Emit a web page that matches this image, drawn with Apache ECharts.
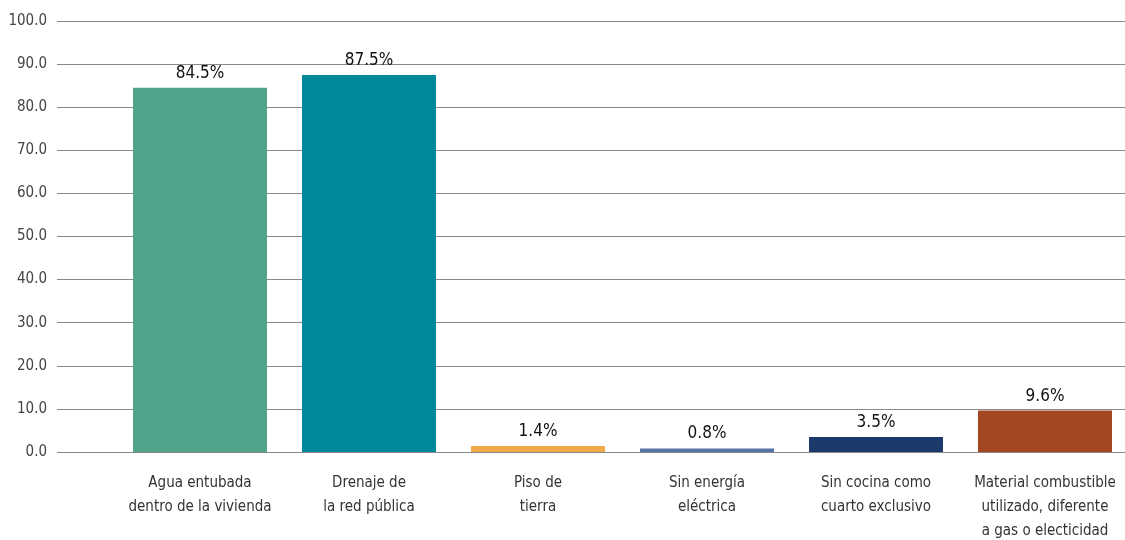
<!DOCTYPE html>
<html>
<head>
<meta charset="utf-8">
<script src="https://cdn.jsdelivr.net/npm/echarts@6/dist/echarts.min.js"></script>
<style>
  html, body { margin: 0; padding: 0; background: #fff; }
  #chart { width: 1125px; height: 540px; }
</style>
</head>
<body>
<div id="chart"></div>
<script>
// datos del gráfico
const categorias = [
  'Agua entubada\ndentro de la vivienda',
  'Drenaje de\nla red pública',
  'Piso de\ntierra',
  'Sin energía\neléctrica',
  'Sin cocina como\ncuarto exclusivo',
  'Material combustible\nutilizado, diferente\na gas o electicidad'
]
const valores = [84.5, 87.5, 1.4, 0.8, 3.5, 9.6]
const colores = ['#51a48c', '#00899b', '#f2a94a', '#5574a6', '#1b3a6b', '#a34722']

const fuente = '"Liberation Sans Narrow", "DejaVu Sans Condensed", sans-serif'

const chart = echarts.init(document.getElementById('chart'))

const option = {
  animation: false,
  textStyle: { fontFamily: fuente },
  grid: [
    // cuadrícula para las líneas del eje Y
    { left: 57, right: 0, top: 21, bottom: 88, outerBoundsMode: 'none' },
    // cuadrícula para las barras
    { left: 115.5, right: -4.5, top: 21, bottom: 88, outerBoundsMode: 'none' }
  ],
  xAxis: [
    { gridIndex: 0, type: 'value', show: false, min: 0, max: 1 },
    {
      gridIndex: 1,
      type: 'category',
      data: categorias,
      axisLine: { show: false },
      axisTick: { show: false },
      axisLabel: {
        interval: 0,
        margin: 19,
        fontSize: 15,
        lineHeight: 24,
        color: '#333',
        fontFamily: fuente
      }
    }
  ],
  yAxis: [
    {
      gridIndex: 0,
      type: 'value',
      min: 0,
      max: 100,
      interval: 10,
      axisLine: { show: false },
      axisTick: { show: false },
      axisLabel: {
        margin: 10,
        fontSize: 15,
        color: '#444',
        fontFamily: fuente,
        formatter: v => v.toFixed(1)
      },
      splitLine: { lineStyle: { color: '#8a8a8a', width: 1 } }
    },
    { gridIndex: 1, type: 'value', min: 0, max: 100, show: false }
  ],
  series: [
    {
      type: 'bar',
      xAxisIndex: 1,
      yAxisIndex: 1,
      barWidth: 134,
      data: valores.map((v, i) => ({ value: v, itemStyle: { color: colores[i] } })),
      label: {
        show: true,
        position: 'top',
        distance: 6,
        fontSize: 17,
        color: '#111',
        fontFamily: fuente,
        formatter: p => p.value.toFixed(1) + '%'
      }
    }
  ]
}

chart.setOption(option)
</script>
</body>
</html>
